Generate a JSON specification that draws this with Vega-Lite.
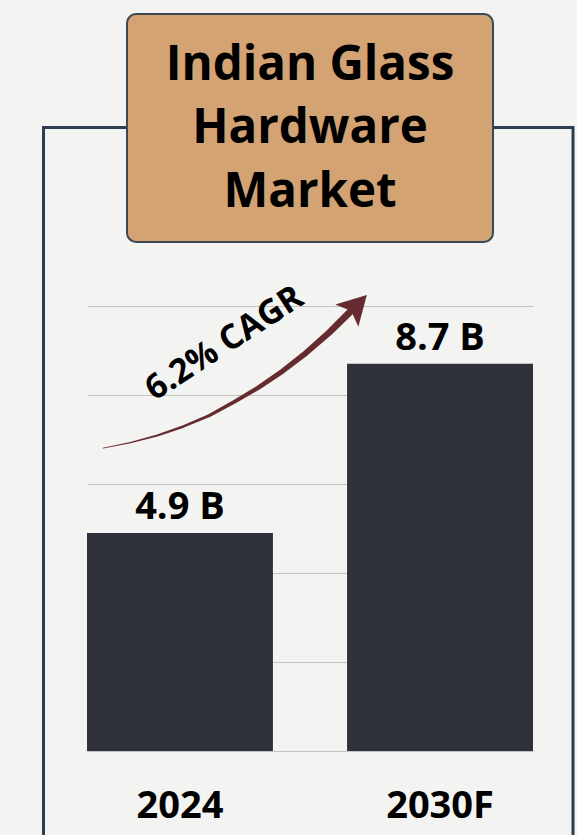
{
  "$schema": "https://vega.github.io/schema/vega-lite/v6.json",
  "width": 446,
  "height": 445,
  "autosize": {"type": "none"},
  "padding": {"left": 87, "top": 306, "right": 44, "bottom": 84},
  "background": "#f3f3f2",
  "config": {
    "view": {"stroke": null},
    "font": "Open Sans",
    "axisY": {"labels": false, "ticks": false, "domain": false, "grid": true, "gridColor": "#c2c2c2", "gridWidth": 1, "tickCount": 5}
  },
  "resolve": {"scale": {"x": "independent"}},
  "layer": [
    {
      "layer": [
        {
          "data": {"values": [{"part": "frame", "x": -9.75, "x2": 108.97, "y": 14.01, "y2": -3}]},
          "mark": {"type": "rect", "fill": null, "fillOpacity": 0, "stroke": "#2c3e50", "strokeWidth": 3, "clip": false},
          "encoding": {
            "x": {"field": "x", "type": "quantitative", "scale": {"domain": [0, 100], "nice": false, "zero": false}, "axis": null},
            "x2": {"field": "x2"},
            "y": {"field": "y", "type": "quantitative", "scale": {"domain": [0, 10]}, "axis": {"title": null}},
            "y2": {"field": "y2"}
          }
        },
        {
          "data": {"values": [{"part": "title box", "x": 8.97, "x2": 91.03, "y": 16.56, "y2": 11.44}]},
          "mark": {"type": "rect", "fill": "#d4a373", "stroke": "#3b4956", "strokeWidth": 2, "cornerRadius": 9, "clip": false},
          "encoding": {
            "x": {"field": "x", "type": "quantitative", "scale": {"domain": [0, 100], "nice": false, "zero": false}, "axis": null},
            "x2": {"field": "x2"},
            "y": {"field": "y", "type": "quantitative", "scale": {"domain": [0, 10]}, "axis": {"title": null}},
            "y2": {"field": "y2"}
          }
        },
        {
          "data": {"values": [{"title": "Indian Glass\nHardware\nMarket", "x": 50, "y": 15.4}]},
          "mark": {"type": "text", "fontSize": 47.5, "fontWeight": "bold", "font": "Open Sans", "color": "#000000", "lineBreak": "\n", "lineHeight": 63.5, "align": "center", "baseline": "middle", "clip": false},
          "encoding": {
            "x": {"field": "x", "type": "quantitative", "scale": {"domain": [0, 100], "nice": false, "zero": false}, "axis": null},
            "y": {"field": "y", "type": "quantitative", "scale": {"domain": [0, 10]}, "axis": {"title": null}},
            "text": {"field": "title"}
          }
        },
        {
          "data": {"values": [
            {"t": 0, "x": 3.59, "y": 6.807},
            {"t": 1, "x": 9.73, "y": 6.929},
            {"t": 2, "x": 15.75, "y": 7.09},
            {"t": 3, "x": 21.63, "y": 7.293},
            {"t": 4, "x": 27.39, "y": 7.536},
            {"t": 5, "x": 33.01, "y": 7.844},
            {"t": 6, "x": 38.51, "y": 8.17},
            {"t": 7, "x": 43.87, "y": 8.538},
            {"t": 8, "x": 49.1, "y": 8.946},
            {"t": 9, "x": 54.22, "y": 9.396},
            {"t": 10, "x": 59.19, "y": 9.888}
          ]},
          "mark": {"type": "trail", "color": "#662b2e", "clip": false},
          "encoding": {
            "x": {"field": "x", "type": "quantitative", "scale": {"domain": [0, 100], "nice": false, "zero": false}, "axis": null},
            "y": {"field": "y", "type": "quantitative", "scale": {"domain": [0, 10]}, "axis": {"title": null}},
            "order": {"field": "t", "type": "quantitative"},
            "size": {"field": "t", "type": "quantitative", "scale": {"domain": [0, 10], "range": [0.6, 7]}, "legend": null}
          }
        },
        {
          "data": {"values": [{"part": "arrow head", "x": 60.25, "y": 9.99}]},
          "mark": {"type": "point", "shape": "M0,-1L1,0.8L0,0.4L-1,0.8Z", "filled": true, "size": 1024, "angle": 44, "color": "#662b2e", "opacity": 1, "strokeWidth": 0, "clip": false},
          "encoding": {
            "x": {"field": "x", "type": "quantitative", "scale": {"domain": [0, 100], "nice": false, "zero": false}, "axis": null},
            "y": {"field": "y", "type": "quantitative", "scale": {"domain": [0, 10]}, "axis": {"title": null}}
          }
        },
        {
          "data": {"values": [{"text": "6.2% CAGR", "x": 30.85, "y": 9.15}]},
          "mark": {"type": "text", "fontSize": 34, "fontWeight": "bold", "font": "Open Sans", "color": "#000000", "angle": -33, "align": "center", "baseline": "middle", "clip": false},
          "encoding": {
            "x": {"field": "x", "type": "quantitative", "scale": {"domain": [0, 100], "nice": false, "zero": false}, "axis": null},
            "y": {"field": "y", "type": "quantitative", "scale": {"domain": [0, 10]}, "axis": {"title": null}},
            "text": {"field": "text"}
          }
        }
      ]
    },
    {
      "data": {"values": [
        {"year": "2024", "value": 4.9, "label": "4.9 B"},
        {"year": "2030F", "value": 8.7, "label": "8.7 B"}
      ]},
      "encoding": {
        "x": {
          "field": "year", "type": "nominal", "sort": null,
          "scale": {"paddingInner": 0.285, "paddingOuter": 0},
          "axis": {"title": null, "labelAngle": 0, "domain": false, "ticks": false, "labelFontSize": 38, "labelFontWeight": "bold", "labelFont": "Open Sans", "labelColor": "#000000", "labelBaseline": "alphabetic", "labelPadding": 66, "grid": false}
        },
        "y": {"field": "value", "type": "quantitative", "scale": {"domain": [0, 10]}, "axis": {"title": null}}
      },
      "layer": [
        {"mark": {"type": "bar", "color": "#2f323b"}},
        {
          "mark": {"type": "text", "fontSize": 38, "fontWeight": "bold", "font": "Open Sans", "color": "#000000", "baseline": "alphabetic", "dy": -14},
          "encoding": {"text": {"field": "label"}}
        }
      ]
    }
  ]
}
